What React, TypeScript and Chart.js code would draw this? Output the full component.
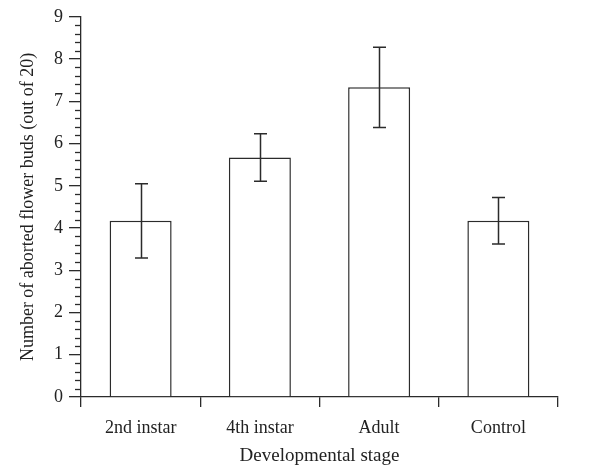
import React, { useEffect, useRef } from "react";
import { Chart, registerables } from "chart.js";

Chart.register(...registerables);

const categories = ["2nd instar", "4th instar", "Adult", "Control"];
const means = [4.17, 5.67, 7.33, 4.17];
const errors = [0.88, 0.56, 0.95, 0.55];
const yTickValues = [0, 1, 2, 3, 4, 5, 6, 7, 8, 9];

const FONT = "'Liberation Serif', 'DejaVu Serif', serif";
const INK = "#2b2b2b";

const minorTicksPlugin = {
  id: "minorTicks",
  afterDraw(chart: any) {
    const y = chart.scales.y;
    const ctx = chart.ctx;
    const x0 = chart.chartArea.left;
    ctx.save();
    ctx.strokeStyle = INK;
    ctx.lineWidth = 1.3;
    for (let i = 0; i < yTickValues.length - 1; i++) {
      for (let k = 1; k < 5; k++) {
        const v = yTickValues[i] + k * 0.2;
        const py = Math.round(y.getPixelForValue(v)) + 0.5;
        ctx.beginPath();
        ctx.moveTo(x0 - 6, py);
        ctx.lineTo(x0, py);
        ctx.stroke();
      }
    }
    ctx.restore();
  },
};

const errorBarsPlugin = {
  id: "errorBars",
  afterDatasetsDraw(chart: any) {
    const meta = chart.getDatasetMeta(0);
    const y = chart.scales.y;
    const ctx = chart.ctx;
    ctx.save();
    ctx.strokeStyle = INK;
    ctx.lineWidth = 1.5;
    meta.data.forEach((bar: any, i: number) => {
      const cx = Math.round(bar.x) + 0.5;
      const top = y.getPixelForValue(means[i] + errors[i]);
      const bot = y.getPixelForValue(means[i] - errors[i]);
      ctx.beginPath();
      ctx.moveTo(cx, top);
      ctx.lineTo(cx, bot);
      ctx.moveTo(cx - 6.5, top);
      ctx.lineTo(cx + 6.5, top);
      ctx.moveTo(cx - 6.5, bot);
      ctx.lineTo(cx + 6.5, bot);
      ctx.stroke();
    });
    ctx.restore();
  },
};

export default function App() {
  const ref = useRef<HTMLCanvasElement | null>(null);

  useEffect(() => {
    document.body.style.margin = "0";
    const canvas = ref.current;
    if (!canvas) return;
    const chart = new Chart(canvas, {
      type: "bar",
      data: {
        labels: categories,
        datasets: [
          {
            data: means,
            backgroundColor: "#ffffff",
            borderColor: INK,
            borderWidth: 1.5,
            barPercentage: 0.52,
            categoryPercentage: 1,
          },
        ],
      },
      options: {
        animation: false,
        responsive: false,
        maintainAspectRatio: false,
        layout: { padding: { top: 15, right: 39, bottom: 0, left: 0 } },
        plugins: {
          legend: { display: false },
          tooltip: { enabled: false },
        },
        scales: {
          x: {
            type: "category",
            offset: true,
            grid: {
              offset: true,
              drawOnChartArea: false,
              drawTicks: true,
              tickLength: 10,
              color: INK,
              lineWidth: 1.3,
            },
            border: { display: true, color: INK, width: 1.3 },
            ticks: {
              color: "#222",
              font: { family: FONT, size: 18 },
              padding: 10,
            },
            title: {
              display: true,
              text: "Developmental stage",
              color: "#222",
              font: { family: FONT, size: 19 },
              padding: { top: 0, bottom: 2 },
            },
            afterFit: (s: any) => {
              s.height = 72;
            },
          },
          y: {
            min: 0,
            max: 9,
            grid: {
              drawOnChartArea: false,
              drawTicks: true,
              tickLength: 12,
              color: INK,
              lineWidth: 1.3,
            },
            border: { display: true, color: INK, width: 1.3 },
            ticks: {
              stepSize: 1,
              color: "#222",
              font: { family: FONT, size: 18 },
              padding: 6,
            },
            afterBuildTicks: (s: any) => {
              s.ticks = yTickValues.map((v) => ({ value: v }));
            },
            title: {
              display: true,
              text: "Number of aborted flower buds (out of 20)",
              color: "#222",
              font: { family: FONT, size: 18 },
              padding: { top: 17, bottom: 0 },
            },
            afterFit: (s: any) => {
              s.width = 81;
            },
          },
        },
      },
      plugins: [minorTicksPlugin, errorBarsPlugin],
    });
    return () => chart.destroy();
  }, []);

  return (
    <div style={{ width: 597, height: 469 }}>
      <canvas ref={ref} width={597} height={469} style={{ display: "block" }} />
    </div>
  );
}
